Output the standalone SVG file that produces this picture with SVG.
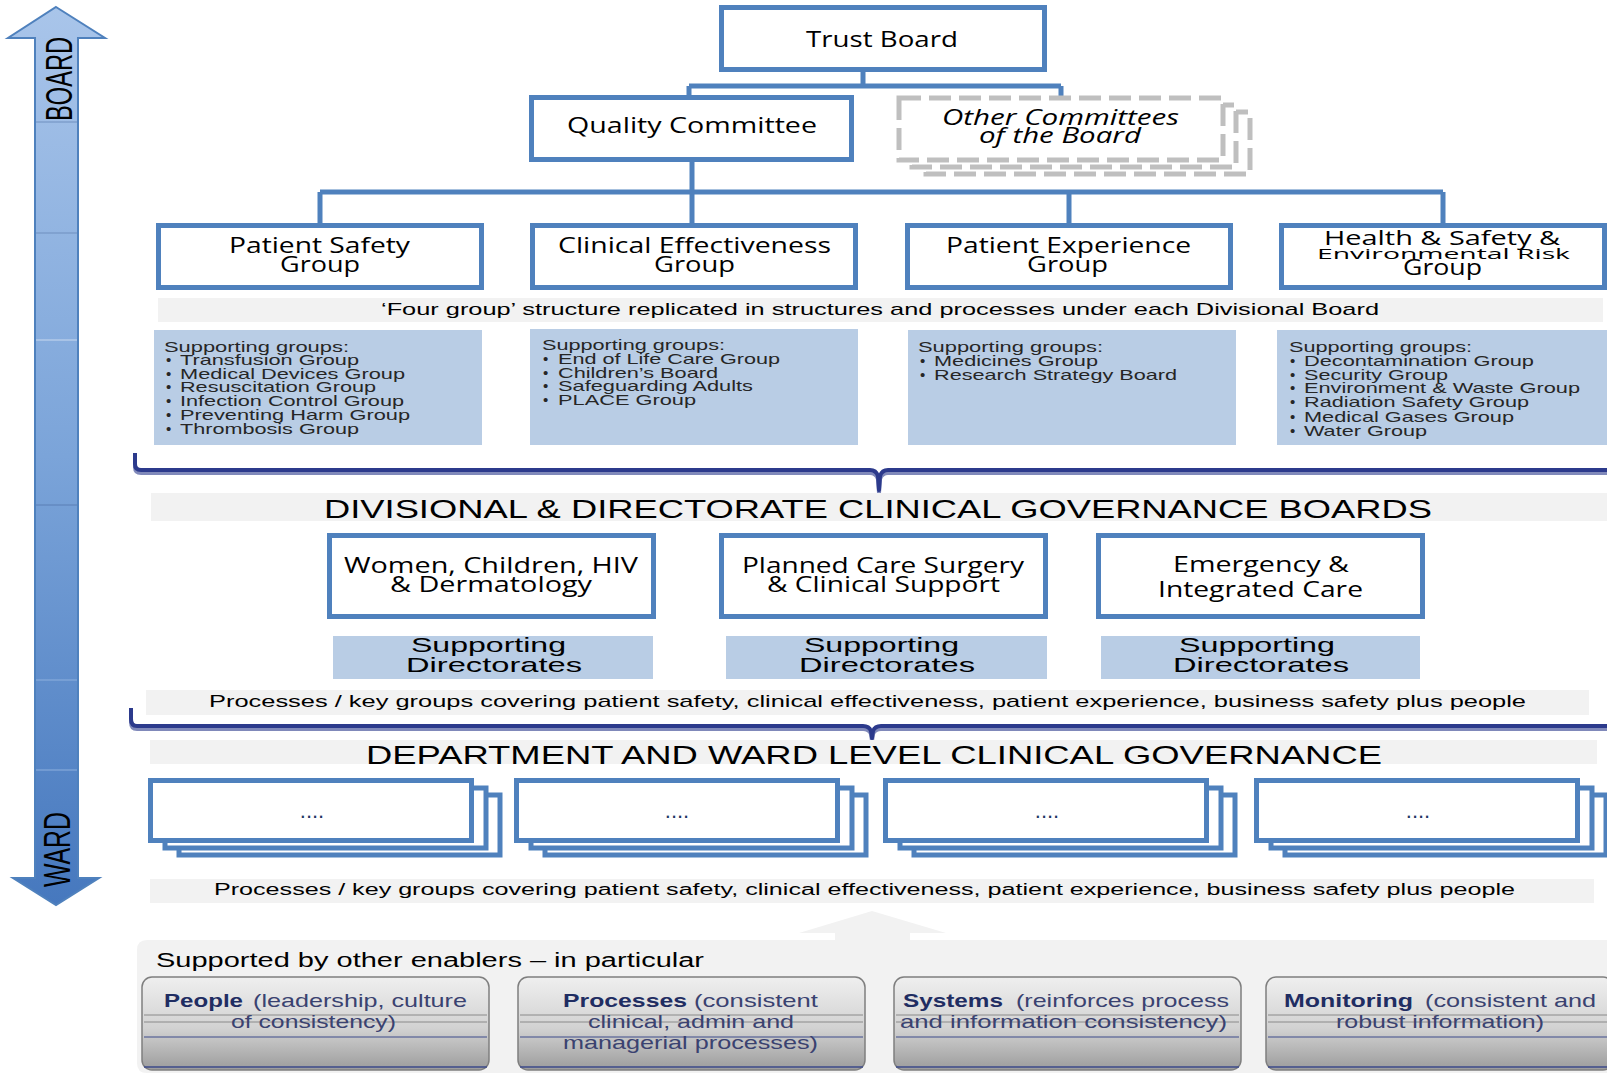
<svg xmlns="http://www.w3.org/2000/svg" width="1607" height="1075" viewBox="0 0 1607 1075">
<defs>
<linearGradient id="arrowGrad" x1="0" y1="0" x2="0" y2="1">
<stop offset="0" stop-color="#a9c5ea"/>
<stop offset="0.5" stop-color="#7ba4d9"/>
<stop offset="1" stop-color="#4678be"/>
</linearGradient>
<linearGradient id="enGrad" x1="0" y1="0" x2="0" y2="1">
<stop offset="0" stop-color="#efefef"/>
<stop offset="0.55" stop-color="#d2d2d2"/>
<stop offset="1" stop-color="#9c9c9c"/>
</linearGradient>
<clipPath id="deptClip"><rect x="140" y="730" width="1467" height="35"/></clipPath>
</defs>
<style>
.box{fill:#fff;stroke:#4f81bd;stroke-width:5}
.conn{fill:none;stroke:#4f81bd;stroke-width:5}
.dash{fill:#fff;stroke:#bfbfbf;stroke-width:5;stroke-dasharray:22 8}
.band{fill:#f2f2f2}
.sup{fill:#b9cde5}
.brace{fill:none;stroke:#2c3a8c;stroke-width:4;stroke-linejoin:round}
.t{font-family:"Open Sans","DejaVu Sans",sans-serif;fill:#000}
.a{font-family:"Liberation Sans",Arial,sans-serif;fill:#000}
.s{font-family:"Liberation Sans",Arial,sans-serif;font-size:15px;fill:#262626}
.en{fill:url(#enGrad);stroke:#7f7f7f;stroke-width:1.5}
.enb{font-family:"Liberation Sans",Arial,sans-serif;font-size:19px;font-weight:bold;fill:#1f2d62}
.enr{font-family:"Liberation Sans",Arial,sans-serif;font-size:19px;fill:#3a4270}
.dots{font-family:"Liberation Sans",Arial,sans-serif;font-size:22px;fill:#1f3864;text-anchor:middle}
</style>

<!-- Left BOARD / WARD arrow -->
<g id="board-ward-arrow">
<polygon points="56,7 105,38 78,38 78,878 99,878 56,905 13,878 35,878 35,38 8,38" fill="url(#arrowGrad)" stroke="#4f81bd" stroke-width="2"/>
<line x1="36" y1="122" x2="77" y2="122" stroke="#6f8fbf" stroke-width="1"/>
<line x1="36" y1="233" x2="77" y2="233" stroke="#6f8fbf" stroke-width="1"/>
<line x1="36" y1="340" x2="77" y2="340" stroke="#c9d9ef" stroke-width="1"/>
<line x1="36" y1="505" x2="77" y2="505" stroke="#5a7fb5" stroke-width="1"/>
<line x1="36" y1="680" x2="77" y2="680" stroke="#8eb0de" stroke-width="1"/>
<line x1="36" y1="770" x2="77" y2="770" stroke="#8eb0de" stroke-width="1"/>
<text class="a" transform="translate(72,121) rotate(-90)" font-size="36" fill="#1b2a4a" textLength="84" lengthAdjust="spacingAndGlyphs">BOARD</text>
<text class="a" transform="translate(70,887) rotate(-90)" font-size="36" fill="#ffffff" textLength="75" lengthAdjust="spacingAndGlyphs">WARD</text>
</g>

<!-- Connectors -->
<g id="connectors">
<path class="conn" d="M863,71 V86 M689,86 H1061 M689,86 V97 M1061,86 V97"/>
<path class="conn" d="M692,161 V192 M320,192 H1443 M320,192 V224 M692,192 V224 M1069,192 V224 M1443,192 V224"/>
</g>

<g id="trust-board">
<rect class="box" x="721.5" y="7.5" width="323" height="62"/>
<text class="t" x="806" y="47" font-size="21" textLength="152" lengthAdjust="spacingAndGlyphs">Trust Board</text>
</g>

<g id="quality-committee">
<rect class="box" x="531.5" y="97.5" width="320" height="62"/>
<text class="t" x="567" y="133" font-size="21" textLength="250" lengthAdjust="spacingAndGlyphs">Quality Committee</text>
</g>

<g id="other-committees">
<rect class="dash" x="926" y="112" width="324" height="62"/>
<rect class="dash" x="912" y="105" width="324" height="62"/>
<rect class="dash" x="899" y="98" width="324" height="62"/>
<text class="t" x="942" y="125" font-size="21" font-style="italic" textLength="237" lengthAdjust="spacingAndGlyphs">Other Committees</text>
<text class="t" x="979" y="143" font-size="21" font-style="italic" textLength="162" lengthAdjust="spacingAndGlyphs">of the Board</text>
</g>

<g id="patient-safety-group">
<rect class="box" x="158.5" y="225.5" width="323" height="62"/>
<text class="t" x="229" y="253" font-size="21" textLength="181" lengthAdjust="spacingAndGlyphs">Patient Safety</text>
<text class="t" x="280" y="272" font-size="21" textLength="80" lengthAdjust="spacingAndGlyphs">Group</text>
</g>

<g id="clinical-effectiveness-group">
<rect class="box" x="532.5" y="225.5" width="323" height="62"/>
<text class="t" x="558" y="253" font-size="21" textLength="273" lengthAdjust="spacingAndGlyphs">Clinical Effectiveness</text>
<text class="t" x="654" y="272" font-size="21" textLength="81" lengthAdjust="spacingAndGlyphs">Group</text>
</g>

<g id="patient-experience-group">
<rect class="box" x="907.5" y="225.5" width="323" height="62"/>
<text class="t" x="946" y="253" font-size="21" textLength="245" lengthAdjust="spacingAndGlyphs">Patient Experience</text>
<text class="t" x="1027" y="272" font-size="21" textLength="81" lengthAdjust="spacingAndGlyphs">Group</text>
</g>

<g id="health-safety-group">
<rect class="box" x="1281.5" y="225.5" width="323" height="62"/>
<text class="t" x="1324" y="245" font-size="20" textLength="236" lengthAdjust="spacingAndGlyphs">Health &amp; Safety &amp;</text>
<text class="t" x="1317" y="259" font-size="15" textLength="253" lengthAdjust="spacingAndGlyphs">Environmental Risk</text>
<text class="t" x="1403" y="275" font-size="21" textLength="79" lengthAdjust="spacingAndGlyphs">Group</text>
</g>

<g id="four-group-band">
<rect class="band" x="158" y="298" width="1445" height="24"/>
<text class="a" x="381" y="315" font-size="17" fill="#1a1a1a" textLength="998" lengthAdjust="spacingAndGlyphs">‘Four group’ structure replicated in structures and processes under each Divisional Board</text>
</g>

<g id="ps-supporting">
<rect class="sup" x="154" y="330" width="328" height="115"/>
<text class="s" x="164" y="352" textLength="185" lengthAdjust="spacingAndGlyphs">Supporting groups:</text>
<text class="s" x="166" y="365">•</text><text class="s" x="180" y="365" textLength="179" lengthAdjust="spacingAndGlyphs">Transfusion Group</text>
<text class="s" x="166" y="379">•</text><text class="s" x="180" y="379" textLength="225" lengthAdjust="spacingAndGlyphs">Medical Devices Group</text>
<text class="s" x="166" y="392">•</text><text class="s" x="180" y="392" textLength="196" lengthAdjust="spacingAndGlyphs">Resuscitation Group</text>
<text class="s" x="166" y="406">•</text><text class="s" x="180" y="406" textLength="224" lengthAdjust="spacingAndGlyphs">Infection Control Group</text>
<text class="s" x="166" y="420">•</text><text class="s" x="180" y="420" textLength="230" lengthAdjust="spacingAndGlyphs">Preventing Harm Group</text>
<text class="s" x="166" y="434">•</text><text class="s" x="180" y="434" textLength="179" lengthAdjust="spacingAndGlyphs">Thrombosis Group</text>
</g>

<g id="ce-supporting">
<rect class="sup" x="530" y="329" width="328" height="116"/>
<text class="s" x="542" y="350" textLength="183" lengthAdjust="spacingAndGlyphs">Supporting groups:</text>
<text class="s" x="543" y="364">•</text><text class="s" x="558" y="364" textLength="222" lengthAdjust="spacingAndGlyphs">End of Life Care Group</text>
<text class="s" x="543" y="378">•</text><text class="s" x="558" y="378" textLength="160" lengthAdjust="spacingAndGlyphs">Children’s Board</text>
<text class="s" x="543" y="391">•</text><text class="s" x="558" y="391" textLength="195" lengthAdjust="spacingAndGlyphs">Safeguarding Adults</text>
<text class="s" x="543" y="405">•</text><text class="s" x="558" y="405" textLength="138" lengthAdjust="spacingAndGlyphs">PLACE Group</text>
</g>

<g id="pe-supporting">
<rect class="sup" x="908" y="330" width="328" height="115"/>
<text class="s" x="918" y="352" textLength="185" lengthAdjust="spacingAndGlyphs">Supporting groups:</text>
<text class="s" x="920" y="366">•</text><text class="s" x="934" y="366" textLength="164" lengthAdjust="spacingAndGlyphs">Medicines Group</text>
<text class="s" x="920" y="380">•</text><text class="s" x="934" y="380" textLength="243" lengthAdjust="spacingAndGlyphs">Research Strategy Board</text>
</g>

<g id="hs-supporting">
<rect class="sup" x="1277" y="330" width="330" height="115"/>
<text class="s" x="1289" y="352" textLength="183" lengthAdjust="spacingAndGlyphs">Supporting groups:</text>
<text class="s" x="1290" y="366">•</text><text class="s" x="1304" y="366" textLength="230" lengthAdjust="spacingAndGlyphs">Decontamination Group</text>
<text class="s" x="1290" y="380">•</text><text class="s" x="1304" y="380" textLength="144" lengthAdjust="spacingAndGlyphs">Security Group</text>
<text class="s" x="1290" y="393">•</text><text class="s" x="1304" y="393" textLength="276" lengthAdjust="spacingAndGlyphs">Environment &amp; Waste Group</text>
<text class="s" x="1290" y="407">•</text><text class="s" x="1304" y="407" textLength="225" lengthAdjust="spacingAndGlyphs">Radiation Safety Group</text>
<text class="s" x="1290" y="422">•</text><text class="s" x="1304" y="422" textLength="210" lengthAdjust="spacingAndGlyphs">Medical Gases Group</text>
<text class="s" x="1290" y="436">•</text><text class="s" x="1304" y="436" textLength="123" lengthAdjust="spacingAndGlyphs">Water Group</text>
</g>

<!-- Braces -->
<g id="braces">
<path class="brace" d="M135,453 V464 Q135,470 141,470 H870 Q876,470 878,476 L879,490 L880,476 Q882,470 888,470 H1607" stroke="#d9d9d9" stroke-width="3" transform="translate(0,3)" opacity="0.6"/>
<path class="brace" d="M135,453 V464 Q135,470 141,470 H870 Q876,470 878,476 L879,490 L880,476 Q882,470 888,470 H1607"/>
<path class="brace" d="M131,708 V719 Q131,726 137,726 H863 Q869,726 871,731 L872,738 L873,731 Q875,726 881,726 H1607" stroke="#d9d9d9" stroke-width="3" transform="translate(0,3)" opacity="0.6"/>
<path class="brace" d="M131,708 V719 Q131,726 137,726 H863 Q869,726 871,731 L872,738 L873,731 Q875,726 881,726 H1607"/>
</g>

<g id="divisional-title">
<rect class="band" x="151" y="493" width="1456" height="28"/>
<text class="a" x="324" y="518" font-size="25" fill="#111" textLength="1108" lengthAdjust="spacingAndGlyphs">DIVISIONAL &amp; DIRECTORATE CLINICAL GOVERNANCE BOARDS</text>
</g>

<g id="women-children">
<rect class="box" x="329.5" y="535.5" width="324" height="81"/>
<text class="t" x="344" y="573" font-size="21" textLength="294" lengthAdjust="spacingAndGlyphs">Women, Children, HIV</text>
<text class="t" x="390" y="592" font-size="21" textLength="202" lengthAdjust="spacingAndGlyphs">&amp; Dermatology</text>
</g>

<g id="planned-care">
<rect class="box" x="721.5" y="535.5" width="324" height="81"/>
<text class="t" x="742" y="573" font-size="21" textLength="282" lengthAdjust="spacingAndGlyphs">Planned Care Surgery</text>
<text class="t" x="767" y="592" font-size="21" textLength="233" lengthAdjust="spacingAndGlyphs">&amp; Clinical Support</text>
</g>

<g id="emergency-care">
<rect class="box" x="1098.5" y="535.5" width="324" height="81"/>
<text class="t" x="1173" y="572" font-size="21" textLength="176" lengthAdjust="spacingAndGlyphs">Emergency &amp;</text>
<text class="t" x="1158" y="597" font-size="21" textLength="205" lengthAdjust="spacingAndGlyphs">Integrated Care</text>
</g>

<g id="supporting-directorates-1">
<rect class="sup" x="333" y="636" width="320" height="43"/>
<text class="a" x="411" y="652" font-size="21" textLength="155" lengthAdjust="spacingAndGlyphs">Supporting</text>
<text class="a" x="406" y="672" font-size="21" textLength="176" lengthAdjust="spacingAndGlyphs">Directorates</text>
</g>
<g id="supporting-directorates-2">
<rect class="sup" x="726" y="636" width="321" height="43"/>
<text class="a" x="804" y="652" font-size="21" textLength="155" lengthAdjust="spacingAndGlyphs">Supporting</text>
<text class="a" x="799" y="672" font-size="21" textLength="176" lengthAdjust="spacingAndGlyphs">Directorates</text>
</g>
<g id="supporting-directorates-3">
<rect class="sup" x="1101" y="636" width="319" height="43"/>
<text class="a" x="1179" y="652" font-size="21" textLength="156" lengthAdjust="spacingAndGlyphs">Supporting</text>
<text class="a" x="1173" y="672" font-size="21" textLength="176" lengthAdjust="spacingAndGlyphs">Directorates</text>
</g>

<g id="process-band-1">
<rect class="band" x="146" y="690" width="1443" height="25"/>
<text class="a" x="209" y="707" font-size="17" fill="#111" textLength="1317" lengthAdjust="spacingAndGlyphs">Processes / key groups covering patient safety, clinical effectiveness, patient experience, business safety plus people</text>
</g>

<g id="department-title">
<rect class="band" x="150" y="740" width="1447" height="24"/>
<text class="a" x="366" y="764" font-size="25" fill="#111" clip-path="url(#deptClip)" textLength="1016" lengthAdjust="spacingAndGlyphs">DEPARTMENT AND WARD LEVEL CLINICAL GOVERNANCE</text>
</g>

<g id="ward-1">
<rect class="box" x="179" y="795" width="321" height="60"/>
<rect class="box" x="165" y="788" width="321" height="60"/>
<rect class="box" x="150.5" y="780.5" width="321" height="60"/>
<text class="dots" x="312" y="818">....</text>
</g>
<g id="ward-2">
<rect class="box" x="545" y="795" width="321" height="60"/>
<rect class="box" x="531" y="788" width="321" height="60"/>
<rect class="box" x="516.5" y="780.5" width="321" height="60"/>
<text class="dots" x="677" y="818">....</text>
</g>
<g id="ward-3">
<rect class="box" x="914" y="795" width="321" height="60"/>
<rect class="box" x="900" y="788" width="321" height="60"/>
<rect class="box" x="885.5" y="780.5" width="321" height="60"/>
<text class="dots" x="1047" y="818">....</text>
</g>
<g id="ward-4">
<rect class="box" x="1285" y="795" width="321" height="60"/>
<rect class="box" x="1271" y="788" width="321" height="60"/>
<rect class="box" x="1256.5" y="780.5" width="321" height="60"/>
<text class="dots" x="1418" y="818">....</text>
</g>

<g id="process-band-2">
<rect class="band" x="150" y="879" width="1444" height="24"/>
<text class="a" x="214" y="895" font-size="16" fill="#111" textLength="1301" lengthAdjust="spacingAndGlyphs">Processes / key groups covering patient safety, clinical effectiveness, patient experience, business safety plus people</text>
</g>

<g id="enablers-panel">
<path class="band" d="M872,911 L946,933 H910 V940 H1607 V1073 H147 Q137,1073 137,1063 V950 Q137,940 147,940 H835 V933 H799 Z"/>
<text class="a" x="156" y="967" font-size="20" fill="#111" textLength="548" lengthAdjust="spacingAndGlyphs">Supported by other enablers – in particular</text>
</g>

<g id="enabler-people">
<rect class="en" x="142" y="977" width="347" height="93" rx="10"/>
<line x1="144" y1="1015" x2="487" y2="1015" stroke="#8a8a8a" stroke-width="1"/>
<line x1="144" y1="1022" x2="487" y2="1022" stroke="#8a8a8a" stroke-width="1"/>
<line x1="144" y1="1037" x2="487" y2="1037" stroke="#3c4a8a" stroke-width="1"/>
<line x1="144" y1="1067" x2="487" y2="1067" stroke="#3c4a8a" stroke-width="1.5"/>
<text class="enb" x="164" y="1007" textLength="79" lengthAdjust="spacingAndGlyphs">People</text>
<text class="enr" x="253" y="1007" textLength="214" lengthAdjust="spacingAndGlyphs">(leadership, culture</text>
<text class="enr" x="231" y="1028" textLength="165" lengthAdjust="spacingAndGlyphs">of consistency)</text>
</g>

<g id="enabler-processes">
<rect class="en" x="518" y="977" width="347" height="93" rx="10"/>
<line x1="520" y1="1015" x2="863" y2="1015" stroke="#8a8a8a" stroke-width="1"/>
<line x1="520" y1="1022" x2="863" y2="1022" stroke="#8a8a8a" stroke-width="1"/>
<line x1="520" y1="1037" x2="863" y2="1037" stroke="#3c4a8a" stroke-width="1"/>
<line x1="520" y1="1067" x2="863" y2="1067" stroke="#3c4a8a" stroke-width="1.5"/>
<text class="enb" x="563" y="1007" textLength="124" lengthAdjust="spacingAndGlyphs">Processes</text>
<text class="enr" x="694" y="1007" textLength="124" lengthAdjust="spacingAndGlyphs">(consistent</text>
<text class="enr" x="588" y="1028" textLength="206" lengthAdjust="spacingAndGlyphs">clinical, admin and</text>
<text class="enr" x="563" y="1049" textLength="255" lengthAdjust="spacingAndGlyphs">managerial processes)</text>
</g>

<g id="enabler-systems">
<rect class="en" x="894" y="977" width="347" height="93" rx="10"/>
<line x1="896" y1="1015" x2="1239" y2="1015" stroke="#8a8a8a" stroke-width="1"/>
<line x1="896" y1="1022" x2="1239" y2="1022" stroke="#8a8a8a" stroke-width="1"/>
<line x1="896" y1="1037" x2="1239" y2="1037" stroke="#3c4a8a" stroke-width="1"/>
<line x1="896" y1="1067" x2="1239" y2="1067" stroke="#3c4a8a" stroke-width="1.5"/>
<text class="enb" x="903" y="1007" textLength="100" lengthAdjust="spacingAndGlyphs">Systems</text>
<text class="enr" x="1016" y="1007" textLength="213" lengthAdjust="spacingAndGlyphs">(reinforces process</text>
<text class="enr" x="900" y="1028" textLength="327" lengthAdjust="spacingAndGlyphs">and information consistency)</text>
</g>

<g id="enabler-monitoring">
<rect class="en" x="1266" y="977" width="347" height="93" rx="10"/>
<line x1="1268" y1="1015" x2="1607" y2="1015" stroke="#8a8a8a" stroke-width="1"/>
<line x1="1268" y1="1022" x2="1607" y2="1022" stroke="#8a8a8a" stroke-width="1"/>
<line x1="1268" y1="1037" x2="1607" y2="1037" stroke="#3c4a8a" stroke-width="1"/>
<line x1="1268" y1="1067" x2="1607" y2="1067" stroke="#3c4a8a" stroke-width="1.5"/>
<text class="enb" x="1284" y="1007" textLength="129" lengthAdjust="spacingAndGlyphs">Monitoring</text>
<text class="enr" x="1425" y="1007" textLength="171" lengthAdjust="spacingAndGlyphs">(consistent and</text>
<text class="enr" x="1336" y="1028" textLength="208" lengthAdjust="spacingAndGlyphs">robust information)</text>
</g>
</svg>
